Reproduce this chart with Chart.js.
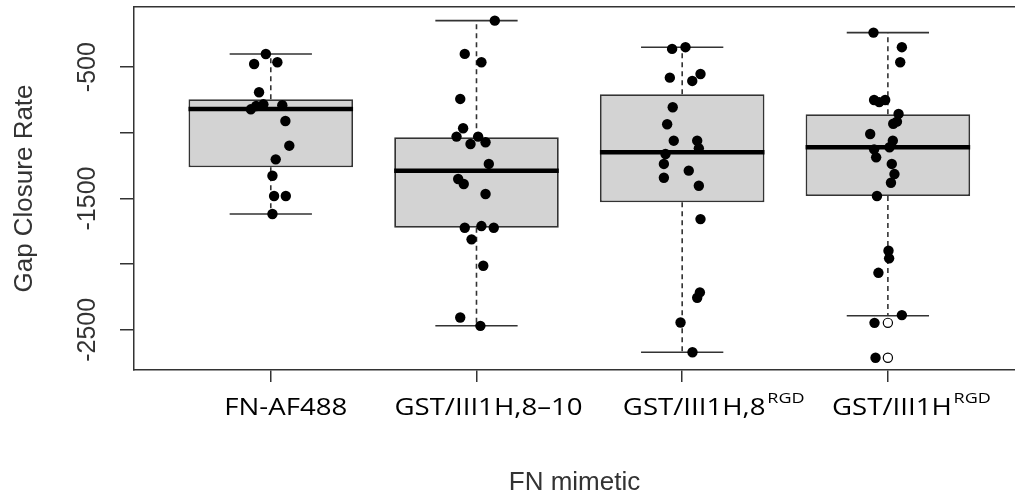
<!DOCTYPE html>
<html>
<head>
<meta charset="utf-8">
<script src="https://cdn.jsdelivr.net/npm/chart.js@4.4.1/dist/chart.umd.min.js"></script>
<style>
  body { margin: 0; background: #fff; }
</style>
</head>
<body>
<canvas id="myChart" width="1015" height="498"></canvas>
<script>
// categories (x axis labels, superscript part kept separate)
var groups = ['FN-AF488', 'GST/III1H,8\u201310', 'GST/III1H,8', 'GST/III1H'];
var groupSup = ['', '', 'RGD', 'RGD'];

// box statistics
var q1 = [-1262, -1722, -1529, -1481];
var med = [-818, -1288, -1148, -1110];
var q3 = [-744, -1034, -706, -859];
var whiskLo = [-1618, -2469, -2671, -2393];
var whiskHi = [-400, -146, -348, -237];
var outliers = [[], [], [], [-2447, -2713]];

// individual measurements + horizontal jitter (in category units)
var g1Vals = [-400, -476, -463, -691, -783, -796, -821, -790, -910, -1098, -1202, -1327, -1481, -1481, -1618];
var g1Jit = [-0.024, -0.081, 0.032, -0.057, -0.036, -0.071, -0.097, 0.056, 0.071, 0.090, 0.024, 0.008, 0.016, 0.073, 0.008];
var g2Vals = [-146, -399, -463, -742, -965, -1029, -1029, -1085, -1072, -1237, -1352, -1390, -1466, -1723, -1710, -1723, -1811, -2012, -2406, -2470];
var g2Jit = [0.089, -0.057, 0.024, -0.079, -0.065, -0.097, 0.008, -0.029, 0.044, 0.060, -0.089, -0.062, 0.044, -0.057, 0.024, 0.084, -0.024, 0.033, -0.079, 0.019];
var g3Vals = [-361, -348, -580, -605, -552, -805, -935, -1060, -1060, -1118, -1161, -1237, -1288, -1342, -1403, -1657, -2215, -2256, -2444, -2671];
var g3Jit = [-0.049, 0.016, -0.060, 0.049, 0.089, -0.046, -0.073, -0.041, 0.073, 0.081, -0.081, -0.089, 0.032, -0.089, 0.081, 0.089, 0.086, 0.073, -0.008, 0.050];
var g4Vals = [-237, -348, -463, -750, -766, -750, -856, -915, -931, -1009, -1060, -1110, -1126, -1187, -1237, -1314, -1380, -1481, -1898, -1956, -2066, -2388, -2447, -2713];
var g4Jit = [-0.070, 0.068, 0.060, -0.067, -0.042, -0.013, 0.052, 0.044, 0.026, -0.086, 0.024, 0.008, -0.067, -0.057, 0.019, 0.032, 0.015, -0.053, 0.003, 0.006, -0.046, 0.068, -0.065, -0.060];

var yTicks = [-2500, -2000, -1500, -1000, -500];
var yLabelled = [-2500, -1500, -500];

var allVals = [g1Vals, g2Vals, g3Vals, g4Vals];
var allJit = [g1Jit, g2Jit, g3Jit, g4Jit];

var lineCol = '#333';
var boxHalf = 0.4, capHalf = 0.2;

// build the pieces of the boxplot
var boxData = [], medData = [], capData = [], whiskData = [], outData = [], ptData = [];
for (var i = 0; i < groups.length; i++) {
  var g = i + 1;
  boxData.push({x: g, y: [q1[i], q3[i]]});
  medData.push({x: g - boxHalf, y: med[i]}, {x: g + boxHalf, y: med[i]}, {x: g + boxHalf, y: null});
  capData.push({x: g - capHalf, y: whiskHi[i]}, {x: g + capHalf, y: whiskHi[i]}, {x: g + capHalf, y: null});
  capData.push({x: g - capHalf, y: whiskLo[i]}, {x: g + capHalf, y: whiskLo[i]}, {x: g + capHalf, y: null});
  whiskData.push({x: g, y: q3[i]}, {x: g, y: whiskHi[i]}, {x: g, y: null});
  whiskData.push({x: g, y: q1[i]}, {x: g, y: whiskLo[i]}, {x: g, y: null});
  for (var k = 0; k < outliers[i].length; k++) outData.push({x: g, y: outliers[i][k]});
  for (var j = 0; j < allVals[i].length; j++) ptData.push({x: g + allJit[i][j], y: allVals[i][j]});
}

// no extra label padding around the plot area
function noPad(scale) {
  scale.paddingTop = 0; scale.paddingBottom = 0;
  scale.paddingLeft = 0; scale.paddingRight = 0;
}

// category labels drawn under the ticks (needed for the superscripts)
var labelShift = [15, 12, 12, 4];
var xLabelPlugin = {
  id: 'xLabels',
  afterDraw: function(chart) {
    var ctx = chart.ctx;
    var xs = chart.scales.x;
    var base = xs.top + 45;
    ctx.save();
    ctx.fillStyle = '#000';
    ctx.textBaseline = 'alphabetic';
    ctx.textAlign = 'left';
    for (var i = 0; i < groups.length; i++) {
      var cx = xs.getPixelForValue(i + 1) + labelShift[i];
      ctx.font = '23px "Open Sans"';
      var w = ctx.measureText(groups[i]).width;
      ctx.save();
      ctx.translate(cx, base);
      ctx.scale(1.2, 1);
      ctx.fillText(groups[i], -w / 2, 0);
      if (groupSup[i]) {
        ctx.font = '15px "Open Sans"';
        ctx.fillText(groupSup[i], w / 2 + 1.5, -12);
      }
      ctx.restore();
    }
    ctx.restore();
  }
};

var ctx = document.getElementById('myChart').getContext('2d');
var myChart = new Chart(ctx, {
  type: 'bar',
  data: {
    datasets: [
      {
        type: 'line', data: ptData, showLine: false, order: 0,
        pointRadius: 5.2, pointBackgroundColor: '#000', pointBorderWidth: 0
      },
      {
        type: 'line', data: outData, showLine: false, order: 1,
        pointRadius: 4.6, pointBackgroundColor: 'rgba(0,0,0,0)', pointBorderColor: '#000', pointBorderWidth: 1.2
      },
      {
        type: 'line', data: medData, order: 2, pointRadius: 0,
        borderColor: '#000', borderWidth: 4.5, borderCapStyle: 'butt'
      },
      {
        type: 'line', data: capData, order: 3, pointRadius: 0,
        borderColor: lineCol, borderWidth: 1.6
      },
      {
        type: 'line', data: whiskData, order: 4, pointRadius: 0,
        borderColor: lineCol, borderWidth: 1.6, borderDash: [5, 4]
      },
      {
        type: 'bar', data: boxData, order: 5,
        backgroundColor: '#d3d3d3', borderColor: lineCol, borderWidth: 1.8, borderSkipped: false,
        barPercentage: 0.8, categoryPercentage: 1
      }
    ]
  },
  options: {
    responsive: false,
    devicePixelRatio: 1,
    animation: false,
    layout: { padding: 0, autoPadding: false },
    plugins: { legend: { display: false }, tooltip: { enabled: false } },
    scales: {
      x: {
        type: 'linear', position: 'bottom', min: 0.335, max: 4.618, offset: false,
        afterBuildTicks: function(scale) { scale.ticks = [1, 2, 3, 4].map(function(v) { return {value: v}; }); },
        afterFit: function(scale) { scale.height = 128; noPad(scale); },
        ticks: { display: false },
        grid: { offset: false, drawOnChartArea: false, drawTicks: true, tickLength: 12, color: lineCol, lineWidth: 1.5 },
        border: { display: true, color: lineCol, width: 1.5 },
        title: {
          display: true, text: 'FN mimetic', color: '#333',
          font: { family: '"Liberation Sans", Arial, sans-serif', size: 26, lineHeight: 1.2 },
          padding: { top: 0, bottom: 0 }
        }
      },
      x2: {
        type: 'linear', position: 'top', min: 0.335, max: 4.618, offset: false,
        afterBuildTicks: function(scale) { scale.ticks = []; },
        afterFit: function(scale) { scale.height = 7; noPad(scale); },
        ticks: { display: false },
        grid: { offset: false, drawOnChartArea: false, drawTicks: false },
        border: { display: true, color: lineCol, width: 1.5 }
      },
      y: {
        min: -2806, max: -42,
        afterBuildTicks: function(scale) { scale.ticks = yTicks.map(function(v) { return {value: v}; }); },
        afterFit: function(scale) { scale.width = 134; noPad(scale); },
        ticks: {
          minRotation: 90, maxRotation: 90, crossAlign: 'center', padding: 0,
          color: '#333',
          font: { family: '"Liberation Sans", Arial, sans-serif', size: 25 },
          callback: function(v) { return yLabelled.indexOf(v) >= 0 ? String(v) : ''; }
        },
        grid: { drawOnChartArea: false, drawTicks: true, tickLength: 14, color: lineCol, lineWidth: 1.5 },
        border: { display: true, color: lineCol, width: 1.5 },
        title: {
          display: true, text: 'Gap Closure Rate', color: '#333',
          font: { family: '"Liberation Sans", Arial, sans-serif', size: 26, lineHeight: 1.2 },
          padding: { top: 9, bottom: 0 }
        }
      }
    }
  },
  plugins: [xLabelPlugin]
});
</script>
</body>
</html>
